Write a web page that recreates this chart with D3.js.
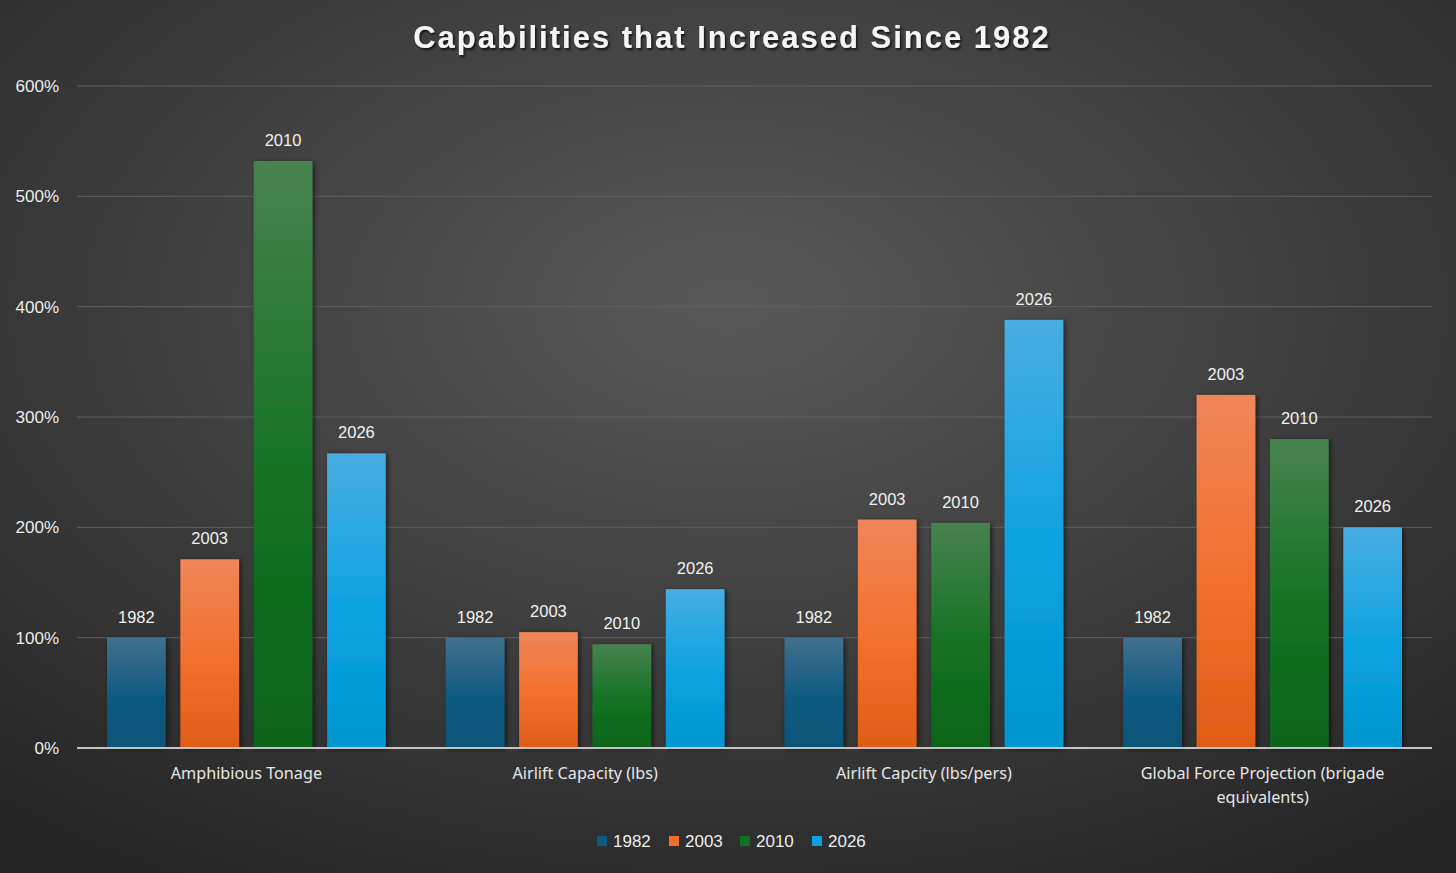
<!DOCTYPE html>
<html>
<head>
<meta charset="utf-8">
<script src="https://cdn.jsdelivr.net/npm/d3@7"></script>
<style>
  html, body { margin: 0; padding: 0; background: #333; }
  svg { display: block; }
</style>
</head>
<body>
<div id="chartContainer"></div>
<script>
// Chart data
const categories = ["Amphibious Tonage", "Airlift Capacity (lbs)", "Airlift Capcity (lbs/pers)", "Global Force Projection (brigade equivalents)"];
const seriesNames = ["1982", "2003", "2010", "2026"];
const values1982 = [100, 100, 100, 100];
const values2003 = [171, 105, 207, 320];
const values2010 = [532, 94, 204, 280];
const values2026 = [267, 144, 388, 200];
const yTicks = [0, 100, 200, 300, 400, 500, 600];

const seriesValues = [values1982, values2003, values2010, values2026];
const colors = [
    ["#41708f", "#0e5a80", "#0a5478"],
    ["#ef8659", "#f26f2b", "#e05c17"],
    ["#47824f", "#137222", "#0c641a"],
    ["#48ade2", "#0aa2e0", "#0096cf"]
];

const W = 1456, H = 873;
const margin = { top: 86, right: 24, bottom: 125, left: 77 };

const svg = d3.select("#chartContainer")
    .append("svg")
    .attr("width", W)
    .attr("height", H);

const defs = svg.append("defs");

// Background radial gradient
const bg = defs.append("radialGradient")
    .attr("id", "bg")
    .attr("cx", "50%").attr("cy", "35%").attr("r", "75%");
bg.append("stop").attr("offset", "0%").attr("stop-color", "#595959");
bg.append("stop").attr("offset", "100%").attr("stop-color", "#262626");

// Bar gradients
colors.forEach(function(c, i) {
    const g = defs.append("linearGradient")
        .attr("id", "bar" + i)
        .attr("x1", 0).attr("y1", 0).attr("x2", 0).attr("y2", 1);
    g.append("stop").attr("offset", "0%").attr("stop-color", c[0]);
    g.append("stop").attr("offset", "55%").attr("stop-color", c[1]);
    g.append("stop").attr("offset", "100%").attr("stop-color", c[2]);
});

const shadow = defs.append("filter").attr("id", "shadow")
    .attr("x", "-20%").attr("y", "-20%").attr("width", "140%").attr("height", "140%");
shadow.append("feDropShadow")
    .attr("dx", 2).attr("dy", 1).attr("stdDeviation", 2.5)
    .attr("flood-color", "#000").attr("flood-opacity", 0.55);

const titleShadow = defs.append("filter").attr("id", "tshadow");
titleShadow.append("feDropShadow")
    .attr("dx", 1.5).attr("dy", 2).attr("stdDeviation", 1)
    .attr("flood-color", "#000").attr("flood-opacity", 0.7);

svg.append("rect")
    .attr("width", W).attr("height", H)
    .attr("fill", "url(#bg)");

// Scales
const x0 = d3.scaleBand()
    .domain(categories)
    .range([margin.left, W - margin.right]);

const x1 = d3.scaleBand()
    .domain(seriesNames)
    .range([30, x0.bandwidth() - 30])
    .paddingInner(0.2);

const y = d3.scaleLinear()
    .domain([0, 600])
    .range([H - margin.bottom, margin.top]);

// Gridlines
svg.append("g")
    .selectAll("line")
    .data(yTicks.filter(d => d > 0))
    .enter()
    .append("line")
    .attr("x1", margin.left)
    .attr("x2", W - margin.right)
    .attr("y1", d => y(d))
    .attr("y2", d => y(d))
    .attr("stroke", "#606060")
    .attr("stroke-width", 1);

// Y axis labels
const yAxis = d3.axisLeft(y)
    .tickValues(yTicks)
    .tickFormat(d => d + "%")
    .tickSize(0)
    .tickPadding(18);

svg.append("g")
    .attr("transform", "translate(" + margin.left + ",0)")
    .call(yAxis)
    .call(g => g.select(".domain").remove())
    .selectAll("text")
    .attr("fill", "#ececec")
    .style("font-family", "'Liberation Sans', Arial, sans-serif")
    .style("font-size", "17px");

// Bars
const groups = svg.append("g")
    .selectAll("g")
    .data(categories)
    .enter()
    .append("g")
    .attr("transform", d => "translate(" + x0(d) + ",0)");

groups.selectAll("rect")
    .data((d, ci) => seriesNames.map((s, si) => ({ s: s, si: si, v: seriesValues[si][ci] })))
    .enter()
    .append("rect")
    .attr("x", d => x1(d.s))
    .attr("y", d => y(d.v))
    .attr("width", x1.bandwidth())
    .attr("height", d => y(0) - y(d.v))
    .attr("fill", d => "url(#bar" + d.si + ")")
    .attr("filter", "url(#shadow)");

// Bar labels (series name)
groups.selectAll("text")
    .data((d, ci) => seriesNames.map((s, si) => ({ s: s, si: si, v: seriesValues[si][ci] })))
    .enter()
    .append("text")
    .attr("x", d => x1(d.s) + x1.bandwidth() / 2)
    .attr("y", d => y(d.v) - 15)
    .attr("text-anchor", "middle")
    .attr("fill", "#f0f0f0")
    .style("font-family", "'Liberation Sans', Arial, sans-serif")
    .style("font-size", "16.5px")
    .text(d => d.s);

// X axis baseline
svg.append("line")
    .attr("x1", margin.left)
    .attr("x2", W - margin.right)
    .attr("y1", y(0))
    .attr("y2", y(0))
    .attr("stroke", "#c4c4c4")
    .attr("stroke-width", 2);

// Category labels, wrapped like the original
const catLines = {
    "Global Force Projection (brigade equivalents)": ["Global Force Projection (brigade", "equivalents)"]
};
const catText = svg.append("g")
    .selectAll("text")
    .data(categories)
    .enter()
    .append("text")
    .attr("x", d => x0(d) + x0.bandwidth() / 2)
    .attr("y", y(0) + 31)
    .attr("text-anchor", "middle")
    .attr("fill", "#e6e6e6")
    .style("font-family", "'Noto Sans', 'Open Sans', sans-serif")
    .style("font-size", "16.2px");

catText.each(function(d) {
    const lines = catLines[d] || [d];
    const t = d3.select(this);
    lines.forEach(function(l, i) {
        t.append("tspan")
            .attr("x", x0(d) + x0.bandwidth() / 2)
            .attr("dy", i === 0 ? 0 : 24)
            .text(l);
    });
});

// Title
svg.append("text")
    .attr("x", 732)
    .attr("y", 48)
    .attr("text-anchor", "middle")
    .attr("fill", "#f5f5f5")
    .attr("filter", "url(#tshadow)")
    .style("font-family", "'Liberation Sans Narrow', 'Liberation Sans', sans-serif")
    .style("font-weight", "bold")
    .style("font-size", "31px")
    .style("letter-spacing", "2px")
    .text("Capabilities that Increased Since 1982");

// Legend
const legendX = [597, 669, 740, 812];
const legend = svg.append("g")
    .selectAll("g")
    .data(seriesNames)
    .enter()
    .append("g")
    .attr("transform", (d, i) => "translate(" + legendX[i] + ",836)");

legend.append("rect")
    .attr("width", 10)
    .attr("height", 10)
    .attr("fill", (d, i) => colors[i][1]);

legend.append("text")
    .attr("x", 16)
    .attr("y", 11)
    .attr("fill", "#ececec")
    .style("font-family", "'Liberation Sans', Arial, sans-serif")
    .style("font-size", "17px")
    .text(d => d);
</script>
</body>
</html>
